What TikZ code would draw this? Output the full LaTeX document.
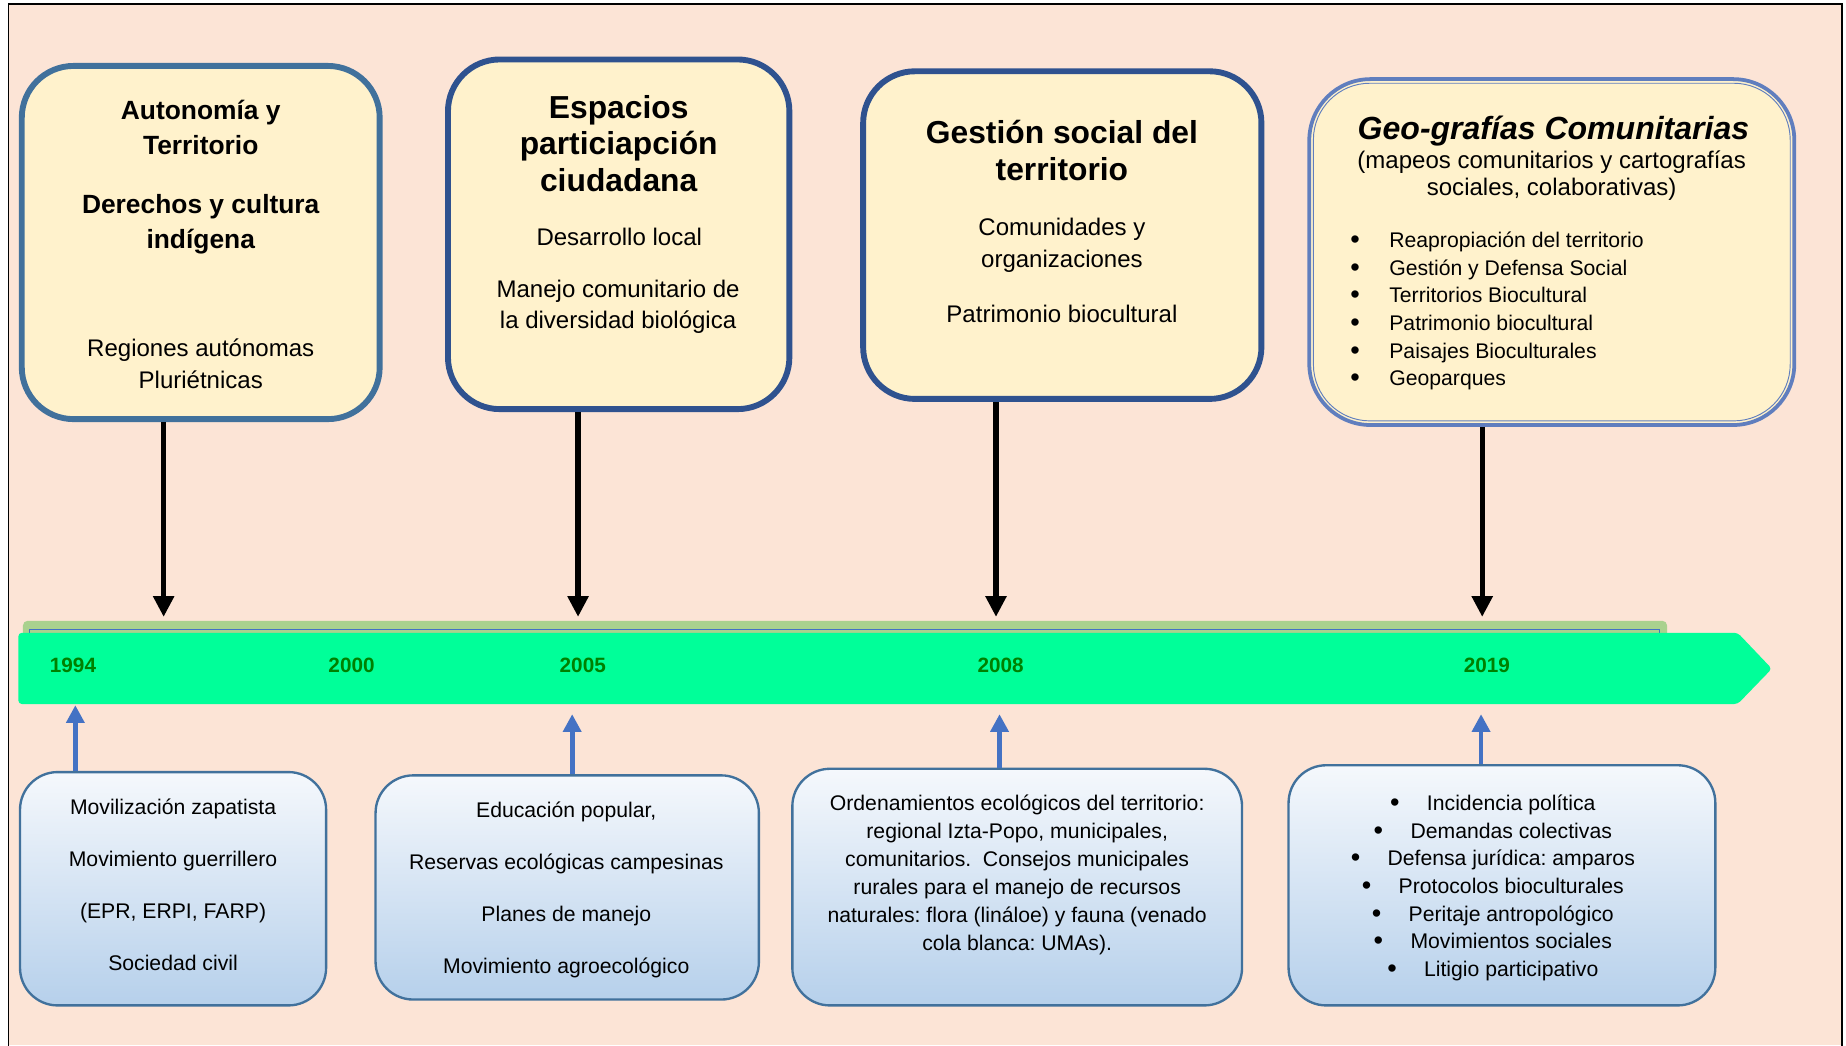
\documentclass[tikz,border=0pt]{standalone}
\usepackage{fontspec}
\setmainfont{Liberation Sans}
\usepackage{tikz}
\usetikzlibrary{arrows.meta}
\frenchspacing

\definecolor{peach}{RGB}{252,228,214}
\definecolor{cream}{RGB}{255,242,204}
\definecolor{edgeA}{RGB}{65,113,156}
\definecolor{edgeB}{RGB}{47,82,143}
\definecolor{edgeD}{RGB}{96,126,190}
\definecolor{bargreen}{RGB}{0,255,153}
\definecolor{backgreen}{RGB}{169,209,142}
\definecolor{lineblue}{RGB}{68,114,196}
\definecolor{yeargreen}{RGB}{0,128,0}
\definecolor{lowtop}{RGB}{245,248,252}
\definecolor{lowbot}{RGB}{182,208,235}

\newcommand{\bul}{\raisebox{-0.4pt}{\fontsize{11.5}{11.5}\selectfont •}}

\begin{document}
\begin{tikzpicture}[x=0.5pt,y=-0.5pt,
  dn/.style={-{Triangle[length=8.8pt,width=8.5pt]},line width=2.2pt,black},
  up/.style={-{Triangle[length=7.5pt,width=7.5pt]},line width=2pt,lineblue}]
  \tikzstyle{topbox}=[draw,fill=cream,line width=2.5pt,rounded corners=22pt,inner sep=0pt]
  \tikzstyle{lowbox}=[draw=edgeA,line width=1pt,rounded corners=16pt,
    top color=lowtop,bottom color=lowbot,inner sep=0pt]
  \tikzstyle{txt}=[inner sep=0pt,anchor=north,align=center,font=\fontsize{10.2}{13.5}\selectfont]
  \tikzstyle{hd}=[txt,font=\fontsize{13.5}{15.5}\selectfont\bfseries]
  \tikzstyle{sm}=[txt,font=\fontsize{9}{11.75}\selectfont]
  \tikzstyle{yr}=[inner sep=0pt,anchor=base,text=yeargreen,font=\fontsize{8.8}{10}\selectfont\bfseries]

  \useasboundingbox (0,0) rectangle (1568,888);
  \fill[peach] (7.3,3.7) rectangle (1564.6,888);
  \draw[line width=0.75pt] (7.3,890) |- (1564.6,3.7) -- (1564.6,890);

  % timeline
  \fill[backgreen,rounded corners=2pt] (19.5,527.3) rectangle (1416,562);
  \draw[lineblue,line width=0.6pt] (25,534.6) rectangle (1409.5,560);
  \fill[bargreen,rounded corners=1.5pt] (15.6,537.5) -- (1476,537.5) -- (1505,568)
    -- (1476,598) -- (15.6,598) -- cycle;
  \node[yr] (y94) at (62,571.5) {1994};
  \node[yr] (y00) at (298.6,571.5) {2000};
  \node[yr] (y05) at (495,571.5) {2005};
  \node[yr] (y08) at (850,571.5) {2008};
  \node[yr] (y19) at (1263,571.5) {2019};

  % upper boxes
  \node[topbox,draw=edgeA,minimum width=152pt,minimum height=150pt] (boxA) at (170.5,206) {};
  \node[topbox,draw=edgeB,minimum width=145pt,minimum height=148.5pt] (boxB) at (525.5,199) {};
  \node[topbox,draw=edgeB,minimum width=169.15pt,minimum height=139.15pt] (boxC) at (902.3,199.7) {};
  \node[topbox,draw=edgeD,line width=1.6pt,rounded corners=26pt,
    minimum width=206pt,minimum height=146.9pt] (boxD) at (1318.1,214.1) {};
  \node[draw=edgeD,line width=0.4pt,rounded corners=24pt,inner sep=0pt,
    minimum width=202.5pt,minimum height=143.4pt] (boxDin) at (boxD.center) {};

  % lower boxes
  \node[lowbox,minimum width=130pt,minimum height=99.1pt] (low1) at (147,754.9) {};
  \node[lowbox,minimum width=162.8pt,minimum height=95.2pt] (low2) at (481.8,753.8) {};
  \node[lowbox,minimum width=191pt,minimum height=100.5pt] (low3) at (864,753.5) {};
  \node[lowbox,minimum width=181.25pt,minimum height=102pt] (low4) at (1275.75,752) {};

  % arrow ends on the timeline
  \coordinate (aA) at (139,524);
  \coordinate (aB) at (491,524);
  \coordinate (aC) at (846,524);
  \coordinate (aD) at (1259,524);
  \coordinate (bA) at (64,599);
  \coordinate (bB) at (486,606.6);
  \coordinate (bC) at (849,606.6);
  \coordinate (bD) at (1258,606.6);

  \path[dn]
  (aA |- boxA.south) edge (aA)
  (aB |- boxB.south) edge (aB)
  (aC |- boxC.south) edge (aC)
  (aD |- boxD.south) edge (aD)
  ;
  \path[up]
  (bA |- low1.north) edge (bA)
  (bB |- low2.north) edge (bB)
  (bC |- low3.north) edge (bC)
  (bD |- low4.north) edge (bD)
  ;

  % texts
  \node[hd,font=\fontsize{11.2}{15}\selectfont\bfseries] (tA1) at (170.5,84.6) {Autonomía y\\Territorio};
  \node[hd,font=\fontsize{11.2}{15}\selectfont\bfseries] (tA2) at (170.5,164.6) {Derechos y cultura\\indígena};
  \node[txt] (tA3) at (170.5,287.3) {Regiones autónomas\\Pluriétnicas};

  \node[hd] (tB1) at (525.5,80.3) {Espacios\\particiapción\\ciudadana};
  \node[txt] (tB2) at (526,193.1) {Desarrollo local};
  \node[txt] (tB3) at (525,237.1) {Manejo comunitario de\\la diversidad biológica};

  \node[hd,font=\fontsize{13.5}{15.7}\selectfont\bfseries] (tC1) at (902,102) {Gestión social del\\territorio};
  \node[txt] (tC2) at (902,184.8) {Comunidades y\\organizaciones};
  \node[txt] (tC3) at (902,258.9) {Patrimonio biocultural};

  \node[hd,font=\fontsize{13.6}{15.5}\selectfont\bfseries\itshape] (tD1) at (1319.5,98.5) {Geo-grafías Comunitarias};
  \node[txt,font=\fontsize{10.2}{11.35}\selectfont] (tD2) at (1318,128.1)
    {(mapeos comunitarios y cartografías\\sociales, colaborativas)};
  \node[sm,anchor=north west,align=left] (tD3) at (1146.5,196.5) {%
    \makebox[16.6pt][l]{\bul}Reapropiación del territorio\\
    \makebox[16.6pt][l]{\bul}Gestión y Defensa Social\\
    \makebox[16.6pt][l]{\bul}Territorios Biocultural\\
    \makebox[16.6pt][l]{\bul}Patrimonio biocultural\\
    \makebox[16.6pt][l]{\bul}Paisajes Bioculturales\\
    \makebox[16.6pt][l]{\bul}Geoparques};

  \node[sm,font=\fontsize{9}{22.15}\selectfont] (tL1) at (147,677.9)
    {Movilización zapatista\\Movimiento guerrillero\\(EPR, ERPI, FARP)\\Sociedad civil};
  \node[sm,font=\fontsize{9}{22}\selectfont] (tL2) at (481,680.9)
    {Educación popular,\\Reservas ecológicas campesinas\\Planes de manejo\\Movimiento agroecológico};
  \node[sm,font=\fontsize{9}{11.9}\selectfont] (tL3) at (864,674.9)
    {Ordenamientos ecológicos del territorio:\\regional Izta-Popo, municipales,\\
     comunitarios.~ Consejos municipales\\rurales para el manejo de recursos\\
     naturales: flora (lináloe) y fauna (venado\\cola blanca: UMAs).};
  \node[sm] (tL4) at (1268,674.9)
    {\bul\hspace{11.6pt}Incidencia política\\
     \bul\hspace{11.6pt}Demandas colectivas\\
     \bul\hspace{11.6pt}Defensa jurídica: amparos\\
     \bul\hspace{11.6pt}Protocolos bioculturales\\
     \bul\hspace{11.6pt}Peritaje antropológico\\
     \bul\hspace{11.6pt}Movimientos sociales\\
     \bul\hspace{11.6pt}Litigio participativo};

\end{tikzpicture}
\end{document}
